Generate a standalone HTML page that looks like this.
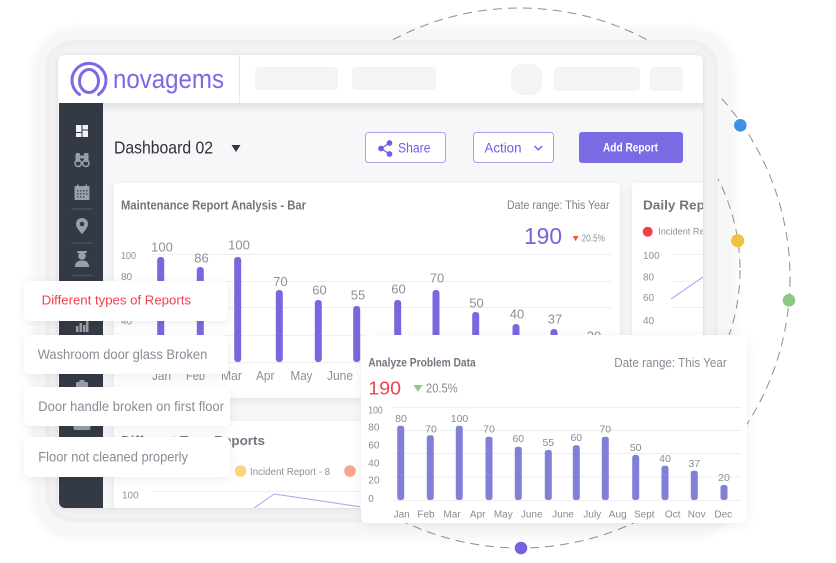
<!DOCTYPE html>
<html><head><meta charset="utf-8">
<style>
html,body{margin:0;padding:0;background:#fff;}
svg{display:block;font-family:"Liberation Sans",Arial,sans-serif;}
</style></head>
<body>
<svg width="836" height="563" viewBox="0 0 836 563" xmlns="http://www.w3.org/2000/svg">
<defs>
  <filter id="sh" x="-15%" y="-15%" width="130%" height="140%">
    <feDropShadow dx="0" dy="2" stdDeviation="4" flood-color="#000" flood-opacity="0.08"/>
  </filter>
  <filter id="sh2" x="-15%" y="-30%" width="130%" height="170%">
    <feDropShadow dx="0" dy="2" stdDeviation="5" flood-color="#000" flood-opacity="0.07"/>
  </filter>
  <filter id="sc" x="-5%" y="-5%" width="110%" height="110%">
    <feDropShadow dx="0" dy="1" stdDeviation="2" flood-color="#000" flood-opacity="0.07"/>
  </filter>
  <filter id="bl" x="-5%" y="-5%" width="110%" height="110%">
    <feGaussianBlur stdDeviation="3"/>
  </filter>
  <clipPath id="scr"><rect x="58" y="55" width="645" height="453" rx="6"/></clipPath>
  <linearGradient id="hs" x1="0" y1="0" x2="0" y2="1">
    <stop offset="0" stop-color="#dfe0e4"/>
    <stop offset="1" stop-color="#f6f7f9" stop-opacity="0"/>
  </linearGradient>
</defs>

<rect x="0" y="0" width="836" height="563" fill="#fff"/>

<!-- halo -->
<rect x="31" y="27" width="705" height="513" rx="44" fill="#f7f7f7" filter="url(#bl)"/>

<!-- dashed circles -->
<circle cx="520" cy="278" r="270" fill="none" stroke="#8e8e8e" stroke-width="1" stroke-dasharray="9 6"/>
<circle cx="540" cy="270" r="200" fill="none" stroke="#8e8e8e" stroke-width="1" stroke-dasharray="9 6"/>

<!-- device frame -->
<rect x="45" y="40" width="673" height="482" rx="28" fill="#efeff0"/>
<rect x="49" y="44" width="665" height="474" rx="25" fill="#f2f2f3"/>

<!-- screen -->
<rect x="58" y="55" width="645" height="453" rx="6" fill="#f6f7f9" stroke="#e2e2e6" stroke-width="1" filter="url(#sc)"/>
<g clip-path="url(#scr)">
  <rect x="58" y="55" width="645" height="453" fill="#f6f7f9"/>
  <!-- header -->
  <rect x="58" y="55" width="645" height="48" fill="#ffffff"/>
  <rect x="103" y="103" width="600" height="14" fill="url(#hs)"/>
  <line x1="239.5" y1="55" x2="239.5" y2="103" stroke="#e7e7eb" stroke-width="1"/>
  <!-- logo -->
  <path d="M79.5 94.5 A17 17 0 1 1 98.5 94.5" fill="none" stroke="#7b6ae6" stroke-width="3" stroke-linecap="round"/>
  <ellipse cx="89" cy="81" rx="9.5" ry="11.5" fill="none" stroke="#7b6ae6" stroke-width="3"/>
  <text x="113" y="88" font-size="27" fill="#7b6ae6" textLength="111" lengthAdjust="spacingAndGlyphs">novagems</text>
  <!-- header placeholders -->
  <rect x="255" y="67" width="83" height="23" rx="4" fill="#f3f4f6"/>
  <rect x="352" y="67" width="84" height="23" rx="4" fill="#f3f4f6"/>
  <rect x="511" y="64" width="31" height="31" rx="11" fill="#f3f4f6"/>
  <rect x="554" y="67" width="86" height="24" rx="4" fill="#f3f4f6"/>
  <rect x="650" y="67" width="33" height="24" rx="4" fill="#f3f4f6"/>

  <!-- sidebar -->
  <path d="M59 103 H103 V508 H65 A6 6 0 0 1 59 502 Z" fill="#333a45"/>
  <!-- dashboard icon -->
  <rect x="76" y="125" width="5.5" height="7" fill="#f2f2f4"/>
  <rect x="82.5" y="125" width="5.5" height="4.5" fill="#f2f2f4"/>
  <rect x="76" y="133" width="5.5" height="4" fill="#f2f2f4"/>
  <rect x="82.5" y="130.5" width="5.5" height="6.5" fill="#f2f2f4"/>
  <!-- binoculars -->
  <rect x="75.5" y="153" width="4.5" height="9" rx="1.5" fill="#9a9fa8"/>
  <rect x="84" y="153" width="4.5" height="9" rx="1.5" fill="#9a9fa8"/>
  <rect x="79.5" y="155.5" width="5" height="3" fill="#9a9fa8"/>
  <circle cx="78.2" cy="163.3" r="3.2" fill="none" stroke="#9a9fa8" stroke-width="1.5"/>
  <circle cx="85.8" cy="163.3" r="3.2" fill="none" stroke="#9a9fa8" stroke-width="1.5"/>
  <!-- calendar -->
  <rect x="74.5" y="186" width="15" height="14" rx="1" fill="#9a9fa8"/>
  <rect x="77" y="184.5" width="1.5" height="3" fill="#9a9fa8"/>
  <rect x="85.5" y="184.5" width="1.5" height="3" fill="#9a9fa8"/>
  <g fill="#4b525d">
    <rect x="77" y="190" width="1.5" height="1.5"/><rect x="80" y="190" width="1.5" height="1.5"/><rect x="83" y="190" width="1.5" height="1.5"/><rect x="86" y="190" width="1.5" height="1.5"/>
    <rect x="77" y="193" width="1.5" height="1.5"/><rect x="80" y="193" width="1.5" height="1.5"/><rect x="83" y="193" width="1.5" height="1.5"/><rect x="86" y="193" width="1.5" height="1.5"/>
    <rect x="77" y="196" width="1.5" height="1.5"/><rect x="80" y="196" width="1.5" height="1.5"/><rect x="83" y="196" width="1.5" height="1.5"/>
  </g>
  <line x1="71.5" y1="209" x2="92.5" y2="209" stroke="#4b525d" stroke-width="1.5"/>
  <!-- pin -->
  <path d="M82 218 a6 6 0 0 1 6 6 c0 4 -6 10 -6 10 c0 0 -6 -6 -6 -10 a6 6 0 0 1 6 -6z" fill="#9a9fa8"/>
  <circle cx="82" cy="224" r="2.3" fill="#333a45"/>
  <line x1="71.5" y1="243" x2="92.5" y2="243" stroke="#4b525d" stroke-width="1.5"/>
  <!-- person -->
  <circle cx="82" cy="256" r="3.8" fill="#9a9fa8"/>
  <path d="M75 267 q0 -6.5 7 -6.5 q7 0 7 6.5z" fill="#9a9fa8"/>
  <rect x="77" y="251" width="10" height="2" rx="1" fill="#9a9fa8"/>
  <line x1="71.5" y1="275.5" x2="92.5" y2="275.5" stroke="#4b525d" stroke-width="1.5"/>
  <!-- chart icon -->
  <g fill="#9a9fa8">
    <rect x="76" y="326" width="2.5" height="6"/><rect x="79.5" y="323" width="2.5" height="9"/>
    <rect x="83" y="325" width="2.5" height="7"/><rect x="86" y="321" width="2.5" height="11"/>
  </g>
  <!-- gear/briefcase top -->
  <rect x="76" y="382" width="12" height="6" rx="1" fill="#9a9fa8"/>
  <rect x="79.5" y="380" width="5" height="3" fill="#9a9fa8"/>
  <!-- chat -->
  <rect x="73.5" y="423" width="17" height="7" rx="2" fill="#9a9fa8"/>

  <!-- title row -->
  <text x="114" y="153.3" font-size="17.5" fill="#2f3236" textLength="99" lengthAdjust="spacingAndGlyphs">Dashboard 02</text>
  <path d="M231.5 145 H240.5 L236 152 Z" fill="#33363b"/>

  <!-- Share button -->
  <rect x="365.5" y="132.5" width="80" height="30" rx="3" fill="#fff" stroke="#a99ef1" stroke-width="1"/>
  <g fill="#6c5ce7" stroke="#6c5ce7" stroke-width="1.3">
    <circle cx="389.5" cy="143" r="2.2"/><circle cx="381" cy="148.5" r="2.2"/><circle cx="389.5" cy="154" r="2.2"/>
    <line x1="389.5" y1="143" x2="381" y2="148.5"/><line x1="381" y1="148.5" x2="389.5" y2="154"/>
  </g>
  <text x="398" y="152.6" font-size="13.5" fill="#6c5ce7" textLength="32.5" lengthAdjust="spacingAndGlyphs">Share</text>
  <!-- Action button -->
  <rect x="473.5" y="132.5" width="80" height="30" rx="3" fill="#fff" stroke="#a99ef1" stroke-width="1"/>
  <text x="484.5" y="152.6" font-size="13.5" fill="#6c5ce7" textLength="37" lengthAdjust="spacingAndGlyphs">Action</text>
  <path d="M534.5 146 L538.3 149.8 L542.1 146" fill="none" stroke="#6c5ce7" stroke-width="1.4"/>
  <!-- Add Report -->
  <rect x="579" y="132" width="104" height="31" rx="3" fill="#7a6ae3"/>
  <text x="603" y="151.7" font-size="11.5" font-weight="bold" fill="#fff" textLength="55" lengthAdjust="spacingAndGlyphs">Add Report</text>

  <!-- Main card -->
  <rect x="114" y="183" width="506" height="215" rx="4" fill="#fff" filter="url(#sh)"/>
  <text x="121" y="209.3" font-size="13" font-weight="bold" fill="#72777f" textLength="185" lengthAdjust="spacingAndGlyphs">Maintenance Report Analysis - Bar</text>
  <text x="507" y="209" font-size="11.5" fill="#7d828b" textLength="102.5" lengthAdjust="spacingAndGlyphs">Date range: This Year</text>
  <text x="524" y="244" font-size="23" fill="#7563e0" textLength="38" lengthAdjust="spacingAndGlyphs">190</text>
  <path d="M572.7 236 H578.5 L575.6 241.3 Z" fill="#f0563f"/>
  <text x="581.5" y="241.7" font-size="10" fill="#8b9099" textLength="23.5" lengthAdjust="spacingAndGlyphs">20.5%</text>
  <g stroke="#eeeff2" stroke-width="1">
    <line x1="152" y1="254.5" x2="612" y2="254.5"/>
    <line x1="152" y1="281.5" x2="612" y2="281.5"/>
    <line x1="152" y1="307.5" x2="612" y2="307.5"/>
    <line x1="152" y1="335.5" x2="612" y2="335.5"/>
    <line x1="152" y1="362.5" x2="612" y2="362.5"/>
  </g>
  <g font-size="10" fill="#8b9099">
    <text x="121" y="259.2" textLength="15" lengthAdjust="spacingAndGlyphs">100</text>
    <text x="121" y="280.2">80</text>
    <text x="121" y="302">60</text>
    <text x="121" y="324.5">40</text>
  </g>
  <g fill="#7868e0">
    <rect x="157.2" y="257" width="7" height="105" rx="3"/>
    <rect x="196.8" y="267" width="7" height="95" rx="3"/>
    <rect x="234.2" y="257" width="7" height="105" rx="3"/>
    <rect x="275.8" y="290" width="7" height="72" rx="3"/>
    <rect x="314.8" y="300" width="7" height="62" rx="3"/>
    <rect x="353.2" y="306" width="7" height="56" rx="3"/>
    <rect x="394.2" y="300" width="7" height="62" rx="3"/>
    <rect x="432.5" y="290" width="7" height="72" rx="3"/>
    <rect x="472.2" y="312" width="7" height="50" rx="3"/>
    <rect x="512.5" y="324" width="7" height="38" rx="3"/>
    <rect x="550.5" y="329" width="7" height="33" rx="3"/>
    <rect x="589.5" y="341" width="7" height="21" rx="3"/>
  </g>
  <g font-size="13" fill="#8b9099" text-anchor="middle">
    <text x="162" y="251.7">100</text>
    <text x="201.5" y="262.7">86</text>
    <text x="239" y="249.3">100</text>
    <text x="280.5" y="286">70</text>
    <text x="319.5" y="294.3">60</text>
    <text x="358" y="299.3">55</text>
    <text x="398.5" y="293.3">60</text>
    <text x="437" y="282.7">70</text>
    <text x="476.5" y="307.7">50</text>
    <text x="517" y="318.3">40</text>
    <text x="555" y="323.3">37</text>
    <text x="594" y="340.7">20</text>
  </g>
  <g font-size="13" fill="#8b9099">
    <text x="152" y="380" textLength="19" lengthAdjust="spacingAndGlyphs">Jan</text>
    <text x="186" y="380" textLength="19" lengthAdjust="spacingAndGlyphs">Feb</text>
    <text x="221" y="380" textLength="21" lengthAdjust="spacingAndGlyphs">Mar</text>
    <text x="256" y="380" textLength="18.5" lengthAdjust="spacingAndGlyphs">Apr</text>
    <text x="290.5" y="380" textLength="22" lengthAdjust="spacingAndGlyphs">May</text>
    <text x="327" y="380" textLength="26" lengthAdjust="spacingAndGlyphs">June</text>
  </g>

  <!-- Daily card -->
  <rect x="632" y="183" width="110" height="215" rx="4" fill="#fff" filter="url(#sh)"/>
  <text x="643" y="209.5" font-size="13" font-weight="bold" fill="#72777f" textLength="80" lengthAdjust="spacingAndGlyphs">Daily Report</text>
  <circle cx="647.7" cy="231.7" r="5" fill="#f23f4f"/>
  <text x="658.3" y="234.5" font-size="9" fill="#8b9099" textLength="62" lengthAdjust="spacingAndGlyphs">Incident Report</text>
  <g font-size="10" fill="#8b9099">
    <text x="643" y="259.2">100</text>
    <text x="643" y="280.5">80</text>
    <text x="643" y="300.8">60</text>
    <text x="643" y="324.2">40</text>
  </g>
  <g stroke="#eeeff2" stroke-width="1">
    <line x1="672" y1="254.5" x2="703" y2="254.5"/>
    <line x1="672" y1="281.5" x2="703" y2="281.5"/>
    <line x1="672" y1="307.5" x2="703" y2="307.5"/>
  </g>
  <line x1="671" y1="299" x2="703" y2="277" stroke="#a898ef" stroke-width="1"/>

  <!-- Reports card (bottom) -->
  <rect x="114" y="421" width="600" height="100" rx="4" fill="#fff" filter="url(#sh)"/>
  <text x="121" y="445" font-size="13" font-weight="bold" fill="#72777f" textLength="144" lengthAdjust="spacingAndGlyphs">Different Type Reports</text>
  <circle cx="240.7" cy="471" r="5.8" fill="#f9d67c"/>
  <text x="250" y="475" font-size="10.5" fill="#8b9099" textLength="80" lengthAdjust="spacingAndGlyphs">Incident Report - 8</text>
  <circle cx="350" cy="471" r="5.8" fill="#f9a48c"/>
  <text x="122" y="498.5" font-size="10" fill="#8b9099">100</text>
  <line x1="153" y1="491.5" x2="400" y2="491.5" stroke="#eeeff2" stroke-width="1"/>
  <polyline points="254,508 274.3,494 360,506.7" fill="none" stroke="#ad9ff1" stroke-width="1"/>
</g>

<!-- dots on circles -->
<circle cx="740.3" cy="125.3" r="6.3" fill="#3f8ee8"/>
<circle cx="737.7" cy="240.7" r="6.6" fill="#f2c13d"/>
<circle cx="789" cy="300.3" r="6.3" fill="#8bc97e"/>
<circle cx="521" cy="548" r="6.3" fill="#7462e0"/>

<!-- tooltip cards -->
<rect x="24" y="281" width="204" height="40" rx="6" fill="#fff" filter="url(#sh2)"/>
<text x="41.7" y="304.5" font-size="13" fill="#f2404f" textLength="149.3" lengthAdjust="spacingAndGlyphs">Different types of Reports</text>
<rect x="24" y="335" width="204" height="39" rx="6" fill="#fff" filter="url(#sh2)"/>
<text x="37.7" y="359" font-size="13.5" fill="#878c95" textLength="169.6" lengthAdjust="spacingAndGlyphs">Washroom door glass Broken</text>
<rect x="24" y="387" width="206" height="39" rx="6" fill="#fff" filter="url(#sh2)"/>
<text x="38.3" y="411.2" font-size="13.5" fill="#878c95" textLength="185.7" lengthAdjust="spacingAndGlyphs">Door handle broken on first floor</text>
<rect x="24" y="437" width="206" height="40" rx="6" fill="#fff" filter="url(#sh2)"/>
<text x="38.3" y="461.3" font-size="13.5" fill="#878c95" textLength="149.7" lengthAdjust="spacingAndGlyphs">Floor not cleaned properly</text>

<!-- Analyze Problem Data card -->
<rect x="361" y="335" width="386" height="188" rx="6" fill="#fff" filter="url(#sh2)"/>
<text x="368.3" y="366.5" font-size="11.5" font-weight="bold" fill="#72777f" textLength="107.4" lengthAdjust="spacingAndGlyphs">Analyze Problem Data</text>
<text x="614.3" y="367" font-size="12.5" fill="#878c95" textLength="112.4" lengthAdjust="spacingAndGlyphs">Date range: This Year</text>
<text x="368.3" y="394.3" font-size="18" fill="#f2404f" textLength="32.7" lengthAdjust="spacingAndGlyphs">190</text>
<path d="M413.3 385 H422.7 L418 391.7 Z" fill="#8bc98a"/>
<text x="426" y="392.3" font-size="12.5" fill="#878c95" textLength="31.7" lengthAdjust="spacingAndGlyphs">20.5%</text>
<g stroke="#eceef1" stroke-width="1">
  <line x1="393" y1="407.5" x2="741" y2="407.5"/>
  <line x1="393" y1="430.5" x2="741" y2="430.5"/>
  <line x1="393" y1="453.5" x2="741" y2="453.5"/>
  <line x1="393" y1="477" x2="741" y2="477"/>
  <line x1="393" y1="500.5" x2="741" y2="500.5"/>
</g>
<g font-size="10" fill="#878c95">
  <text x="368.3" y="413.5" textLength="14.3" lengthAdjust="spacingAndGlyphs">100</text>
  <text x="368.3" y="430.3">80</text>
  <text x="368.3" y="448.6">60</text>
  <text x="368.3" y="466.3">40</text>
  <text x="368.3" y="483.6">20</text>
  <text x="368.3" y="501.9">0</text>
</g>
<g fill="#8081d6">
  <rect x="397.2" y="425.7" width="7" height="74.3" rx="2.5"/>
  <rect x="426.8" y="435.3" width="7" height="64.7" rx="2.5"/>
  <rect x="455.8" y="425.7" width="7" height="74.3" rx="2.5"/>
  <rect x="485.5" y="436.7" width="7" height="63.3" rx="2.5"/>
  <rect x="514.8" y="446.7" width="7" height="53.3" rx="2.5"/>
  <rect x="544.8" y="450" width="7" height="50" rx="2.5"/>
  <rect x="572.8" y="445.3" width="7" height="54.7" rx="2.5"/>
  <rect x="601.8" y="436.7" width="7" height="63.3" rx="2.5"/>
  <rect x="632.2" y="455" width="7" height="45" rx="2.5"/>
  <rect x="661.5" y="465.7" width="7" height="34.3" rx="2.5"/>
  <rect x="690.8" y="470.7" width="7" height="29.3" rx="2.5"/>
  <rect x="720.5" y="485" width="7" height="15" rx="2.5"/>
</g>
<g font-size="10.5" fill="#878c95" text-anchor="middle">
  <text x="401" y="422">80</text>
  <text x="431" y="432.4">70</text>
  <text x="459.5" y="422">100</text>
  <text x="489" y="432.4">70</text>
  <text x="518.3" y="442">60</text>
  <text x="548.3" y="446">55</text>
  <text x="576.3" y="441">60</text>
  <text x="605.3" y="432.4">70</text>
  <text x="635.7" y="451">50</text>
  <text x="665" y="462">40</text>
  <text x="694.3" y="467">37</text>
  <text x="724" y="481">20</text>
</g>
<g font-size="10" fill="#878c95" text-anchor="middle">
  <text x="401.7" y="517.3">Jan</text>
  <text x="426" y="517.3">Feb</text>
  <text x="452" y="517.3">Mar</text>
  <text x="477.7" y="517.3">Apr</text>
  <text x="503.3" y="517.3">May</text>
  <text x="531.7" y="517.3">June</text>
  <text x="563" y="517.3">June</text>
  <text x="592.3" y="517.3">July</text>
  <text x="617.7" y="517.3">Aug</text>
  <text x="644.3" y="517.3">Sept</text>
  <text x="672.7" y="517.3">Oct</text>
  <text x="696.7" y="517.3">Nov</text>
  <text x="723.3" y="517.3">Dec</text>
</g>
</svg>
</body></html>
